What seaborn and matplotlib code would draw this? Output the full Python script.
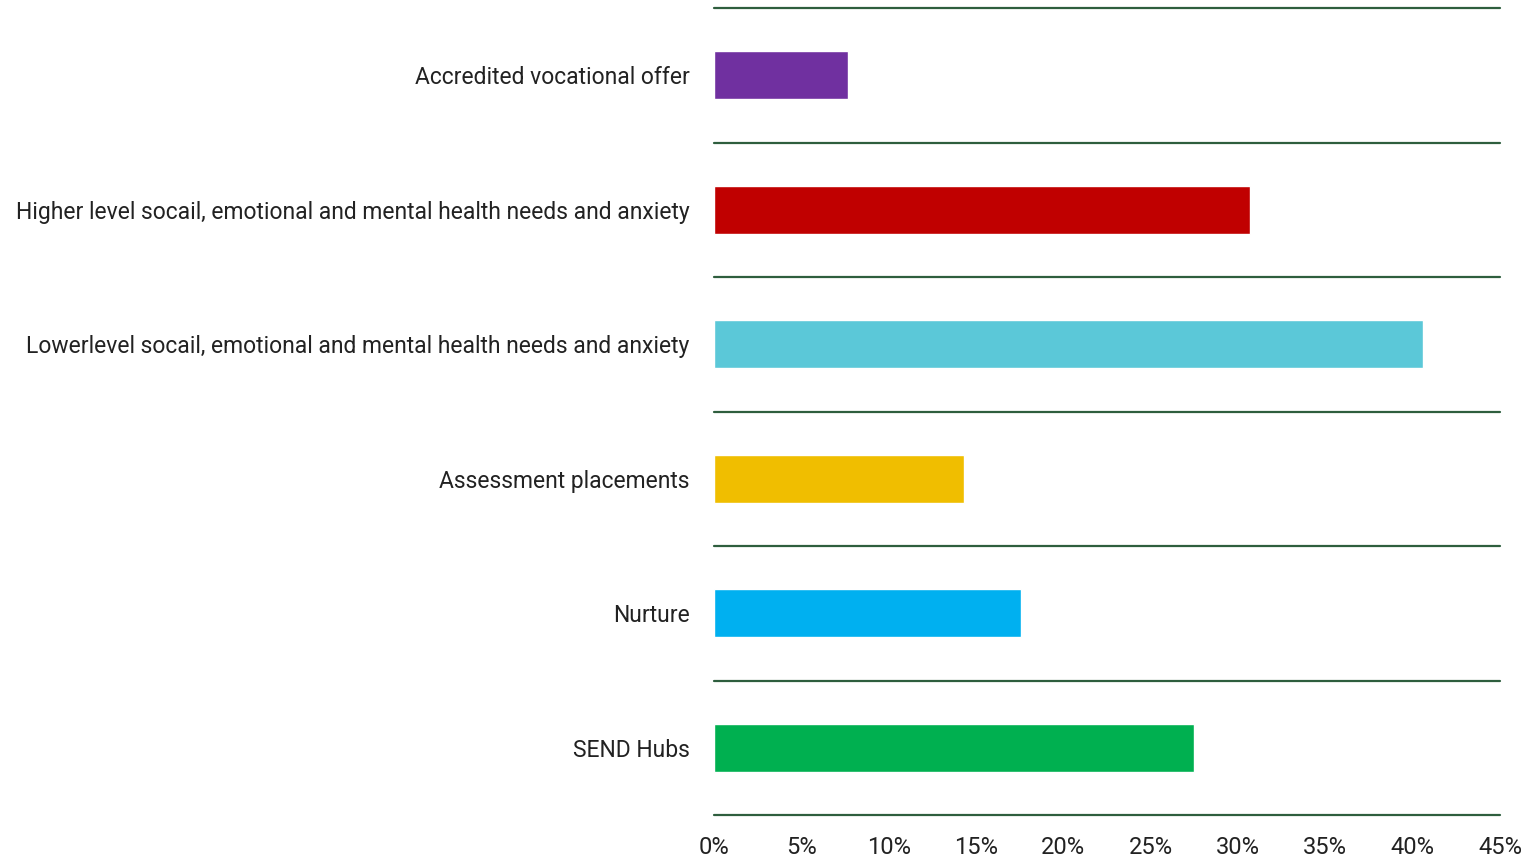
import matplotlib
matplotlib.use("Agg")
import matplotlib.pyplot as plt
import seaborn as sns
import pandas as pd
from matplotlib.ticker import FuncFormatter

categories = [
    "Accredited vocational offer",
    "Higher level socail, emotional and mental health needs and anxiety",
    "Lowerlevel socail, emotional and mental health needs and anxiety",
    "Assessment placements",
    "Nurture",
    "SEND Hubs",
]
values = [7.7, 30.7, 40.6, 14.3, 17.6, 27.5]
colors = ["#7030A0", "#C00000", "#5BC8D8", "#F0BE00", "#00B0F0", "#00B050"]
x_ticks = [0, 5, 10, 15, 20, 25, 30, 35, 40, 45]

sns.set_theme(style="white")
plt.rcParams["font.family"] = ["Roboto", "DejaVu Sans"]

df = pd.DataFrame({"category": categories, "value": values})

fig = plt.figure(figsize=(15.29, 8.59), dpi=100)
ax = fig.add_axes([714 / 1529, 1 - 815 / 859, (1500 - 714) / 1529, (815 - 8) / 859])

sns.barplot(data=df, y="category", x="value", hue="category", palette=colors,
            width=0.36, legend=False, ax=ax, saturation=1)

ax.set_xlim(0, 45)
ax.set_ylim(len(categories) - 0.5, -0.5)
for b in [i - 0.5 for i in range(len(categories) + 1)]:
    ax.axhline(b, color="#2E5E3E", lw=1.6, zorder=0, clip_on=False)

for s in ax.spines.values():
    s.set_visible(False)

ax.set_xticks(x_ticks)
ax.xaxis.set_major_formatter(FuncFormatter(lambda v, p: f"{v:.0f}%"))
ax.tick_params(axis="x", length=0, pad=15, labelsize=17, labelcolor="#222222")
ax.tick_params(axis="y", length=0, pad=17.5, labelsize=16.5, labelcolor="#222222")
for t in ax.get_xticklabels():
    t.set_fontfamily(["Liberation Sans Narrow", "Roboto", "DejaVu Sans"])
ax.set_xlabel("")
ax.set_ylabel("")

fig.savefig("out.png", dpi=100, facecolor="white")
